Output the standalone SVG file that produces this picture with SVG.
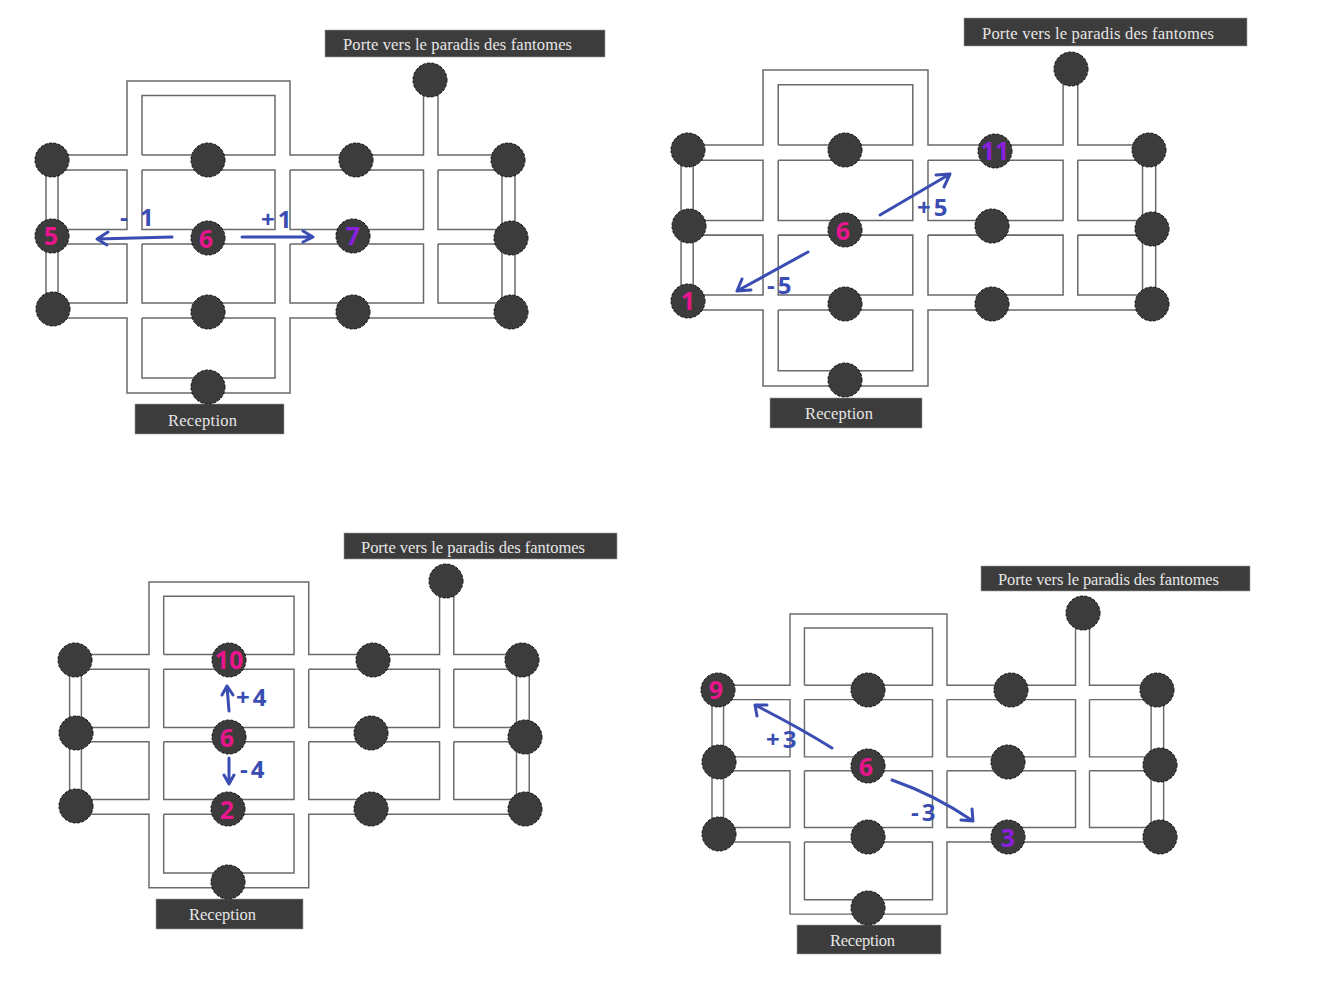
<svg xmlns="http://www.w3.org/2000/svg" width="1317" height="1000" viewBox="0 0 1317 1000">
<style>
.wall{fill:none;stroke:#6a6a6a;stroke-width:1.5}
.dot{fill:#3c3c3c;stroke:#111;stroke-width:1;stroke-dasharray:3 1.5}
.box{fill:#3c3c3c;stroke:#999;stroke-width:.6}
.cap{font-family:"Liberation Serif",serif;font-size:16.500px;fill:#e6e6e6}
.arr{fill:none;stroke:#3a4db3;stroke-width:3;stroke-linecap:round;stroke-linejoin:round}
.hand{font-family:"Open Sans",sans-serif;font-size:24px;font-weight:700;fill:#3a4db3;letter-spacing:3px}
.pk{font-family:"Open Sans",sans-serif;font-size:25px;font-weight:700;fill:#e8158c;text-anchor:middle}
.pu{font-family:"Open Sans",sans-serif;font-size:25px;font-weight:700;fill:#8a1fe0;text-anchor:middle}
</style>
<defs>
<path id="walls" class="wall" d="M52 155H127V81H290V155H423.500V81M438 81V155H508M142 155V95.500H275V155H142M58 170H127V229.500H58V170M142 170H275V229.500H142V170M290 170H423.500V229.500H290V170M438 170H502V229.500H438V170M58 244H127V303H58V244M142 244H275V303H142V244M290 244H423.500V303H290V244M438 244H502V303H438V244M52 318H127V393H290V318H511M142 318H275V378H142V318M46 170V303M502 170V303M515 170V303"/>
<circle id="n" class="dot" r="17"/>
</defs>
<rect width="1317" height="1000" fill="#fff"/>
<g id="connectors">
<use href="#walls"/>
<use href="#walls" transform="matrix(1.012 0 0 1.013 634.500 -12.050)"/>
<use href="#walls" transform="matrix(.98 0 0 .98 24.540 502.620)"/>
<use href="#walls" transform="matrix(.963 0 0 .962 667.700 536.080)"/>
<path class="arr" d="M172 237L97 239M108 232L97 239L107 245"/>
<path class="arr" d="M242 237H313M303 231L313 237L303 242"/>
<path class="arr" d="M880 215L950 174M936 175L950 174L944 187"/>
<path class="arr" d="M808 252L737 291M742 279L737 291L751 290"/>
<path class="arr" d="M229 711L227 686M222 695L227 686L233 695"/>
<path class="arr" d="M229 758V784M224 775L229 784L234 775"/>
<path class="arr" d="M832 748Q800 728 755 705M757 716L755 705L767 705"/>
<path class="arr" d="M892 780Q935 795 973 821M972 809L973 821L961 820"/>
</g>
<g id="p1-labels">
<g id="p1-door"><rect class="box" x="325" y="30" width="280" height="27"/><text class="cap" x="343" y="50" textLength="229">Porte vers le paradis des fantomes</text></g>
<g id="p1-reception"><rect class="box" x="135" y="404" width="149" height="30"/><text class="cap" x="168" y="426" textLength="69">Reception</text></g>
<text class="hand" x="120" y="226">- 1</text><text class="hand" x="261" y="228">+1</text>
</g>
<g id="p1-nodes">
<g id="p1n1"><use href="#n" x="52" y="160"/></g><g id="p1n2"><use href="#n" x="208" y="160"/></g><g id="p1n3"><use href="#n" x="356" y="160"/></g><g id="p1n4"><use href="#n" x="508" y="160"/></g><g id="p1n5"><use href="#n" x="430" y="80"/></g>
<g id="p1n6"><use href="#n" x="52" y="236"/><text class="pk" x="51" y="245">5</text></g><g id="p1n7"><use href="#n" x="208" y="238"/><text class="pk" x="206" y="248">6</text></g><g id="p1n8"><use href="#n" x="353" y="236"/><text class="pu" x="353" y="245">7</text></g><g id="p1n9"><use href="#n" x="511" y="238"/></g>
<g id="p1n10"><use href="#n" x="53" y="309"/></g><g id="p1n11"><use href="#n" x="208" y="312"/></g><g id="p1n12"><use href="#n" x="353" y="312"/></g><g id="p1n13"><use href="#n" x="511" y="312"/></g><g id="p1n14"><use href="#n" x="208" y="387"/></g>
</g>
<g id="p2-labels">
<g id="p2-door"><rect class="box" x="964" y="18" width="283" height="28"/><text class="cap" x="982" y="39" textLength="232">Porte vers le paradis des fantomes</text></g>
<g id="p2-reception"><rect class="box" x="770" y="398" width="152" height="30"/><text class="cap" x="805" y="419" textLength="68">Reception</text></g>
<text class="hand" x="917" y="216">+5</text><text class="hand" x="767" y="294">-5</text>
</g>
<g id="p2-nodes">
<g id="p2n1"><use href="#n" x="688" y="150"/></g><g id="p2n2"><use href="#n" x="845" y="150"/></g><g id="p2n3"><use href="#n" x="995" y="151"/><text class="pu" x="995" y="160">11</text></g><g id="p2n4"><use href="#n" x="1149" y="150"/></g><g id="p2n5"><use href="#n" x="1071" y="69"/></g>
<g id="p2n6"><use href="#n" x="689" y="226"/></g><g id="p2n7"><use href="#n" x="845" y="230"/><text class="pk" x="843" y="240">6</text></g><g id="p2n8"><use href="#n" x="992" y="226"/></g><g id="p2n9"><use href="#n" x="1152" y="229"/></g>
<g id="p2n10"><use href="#n" x="688" y="301"/><text class="pk" x="688" y="310">1</text></g><g id="p2n11"><use href="#n" x="845" y="304"/></g><g id="p2n12"><use href="#n" x="992" y="304"/></g><g id="p2n13"><use href="#n" x="1152" y="304"/></g><g id="p2n14"><use href="#n" x="845" y="380"/></g>
</g>
<g id="p3-labels">
<g id="p3-door"><rect class="box" x="344" y="533" width="273" height="26"/><text class="cap" x="361" y="553" textLength="224">Porte vers le paradis des fantomes</text></g>
<g id="p3-reception"><rect class="box" x="156" y="899" width="147" height="30"/><text class="cap" x="189" y="920" textLength="67">Reception</text></g>
<text class="hand" x="236" y="706">+4</text><text class="hand" x="240" y="778">-4</text>
</g>
<g id="p3-nodes">
<g id="p3n1"><use href="#n" x="75" y="660"/></g><g id="p3n2"><use href="#n" x="229" y="660"/><text class="pk" x="229" y="669">10</text></g><g id="p3n3"><use href="#n" x="373" y="660"/></g><g id="p3n4"><use href="#n" x="522" y="660"/></g><g id="p3n5"><use href="#n" x="446" y="581"/></g>
<g id="p3n6"><use href="#n" x="76" y="733"/></g><g id="p3n7"><use href="#n" x="229" y="737"/><text class="pk" x="227" y="747">6</text></g><g id="p3n8"><use href="#n" x="371" y="733"/></g><g id="p3n9"><use href="#n" x="525" y="737"/></g>
<g id="p3n10"><use href="#n" x="76" y="806"/></g><g id="p3n11"><use href="#n" x="228" y="809"/><text class="pk" x="227" y="819">2</text></g><g id="p3n12"><use href="#n" x="371" y="809"/></g><g id="p3n13"><use href="#n" x="525" y="809"/></g><g id="p3n14"><use href="#n" x="228" y="882"/></g>
</g>
<g id="p4-labels">
<g id="p4-door"><rect class="box" x="981" y="566" width="269" height="25"/><text class="cap" x="998" y="585" textLength="221">Porte vers le paradis des fantomes</text></g>
<g id="p4-reception"><rect class="box" x="797" y="925" width="144" height="29"/><text class="cap" x="830" y="946" textLength="65">Reception</text></g>
<text class="hand" x="766" y="748">+3</text><text class="hand" x="911" y="821">-3</text>
</g>
<g id="p4-nodes">
<g id="p4n1"><use href="#n" x="718" y="690"/><text class="pk" x="716" y="699">9</text></g><g id="p4n2"><use href="#n" x="868" y="690"/></g><g id="p4n3"><use href="#n" x="1011" y="690"/></g><g id="p4n4"><use href="#n" x="1157" y="690"/></g><g id="p4n5"><use href="#n" x="1083" y="613"/></g>
<g id="p4n6"><use href="#n" x="719" y="762"/></g><g id="p4n7"><use href="#n" x="868" y="766"/><text class="pk" x="866" y="776">6</text></g><g id="p4n8"><use href="#n" x="1008" y="762"/></g><g id="p4n9"><use href="#n" x="1160" y="765"/></g>
<g id="p4n10"><use href="#n" x="719" y="834"/></g><g id="p4n11"><use href="#n" x="868" y="837"/></g><g id="p4n12"><use href="#n" x="1008" y="837"/><text class="pu" x="1008" y="847">3</text></g><g id="p4n13"><use href="#n" x="1160" y="837"/></g><g id="p4n14"><use href="#n" x="868" y="908"/></g>
</g>
</svg>
